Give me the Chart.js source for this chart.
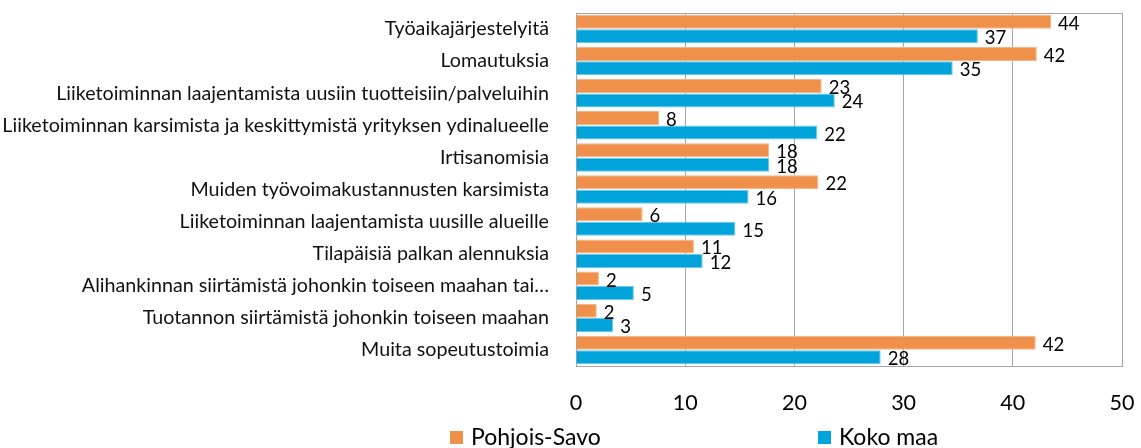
<!DOCTYPE html>
<html>
<head>
<meta charset="utf-8">
<script src="https://cdn.jsdelivr.net/npm/chart.js@4/dist/chart.umd.min.js"></script>
<style>
  html, body { margin: 0; padding: 0; background: #fff; }
  #wrap { width: 1141px; height: 448px; }
</style>
</head>
<body>
<div id="wrap"><canvas id="myChart" width="1141" height="448"></canvas></div>
<script>
// data
const categories = [
  'Työaikajärjestelyitä',
  'Lomautuksia',
  'Liiketoiminnan laajentamista uusiin tuotteisiin/palveluihin',
  'Liiketoiminnan karsimista ja keskittymistä yrityksen ydinalueelle',
  'Irtisanomisia',
  'Muiden työvoimakustannusten karsimista',
  'Liiketoiminnan laajentamista uusille alueille',
  'Tilapäisiä palkan alennuksia',
  'Alihankinnan siirtämistä johonkin toiseen maahan tai…',
  'Tuotannon siirtämistä johonkin toiseen maahan',
  'Muita sopeutustoimia'
];
const pohjoisSavo = [43.5, 42.2, 22.5, 7.6, 17.7, 22.2, 6.1, 10.8, 2.1, 1.9, 42.1];
const kokoMaa = [36.8, 34.5, 23.7, 22.1, 17.7, 15.8, 14.6, 11.6, 5.3, 3.4, 27.9];
const seriesNames = ['Pohjois-Savo', 'Koko maa'];
const xTicks = [0, 10, 20, 30, 40, 50];

const FONT = 'Lato, "Noto Sans", sans-serif';
const gridColor = '#a6a6a6';

// box around the plot area
const plotBox = {
  id: 'plotBox',
  beforeDatasetsDraw(chart) {
    const {ctx, chartArea: {left, top, right, bottom}} = chart;
    ctx.save();
    ctx.strokeStyle = gridColor;
    ctx.lineWidth = 1;
    ctx.strokeRect(Math.round(left) + 0.5, Math.round(top) + 0.5, Math.round(right - left), Math.round(bottom - top));
    ctx.restore();
  }
};

// value labels at bar ends
const valueLabels = {
  id: 'valueLabels',
  afterDatasetsDraw(chart) {
    const {ctx} = chart;
    ctx.save();
    ctx.font = '18.5px ' + FONT;
    ctx.fillStyle = '#000';
    ctx.textAlign = 'left';
    ctx.textBaseline = 'middle';
    chart.data.datasets.forEach((ds, i) => {
      chart.getDatasetMeta(i).data.forEach((bar, j) => {
        ctx.fillText(Math.round(ds.data[j]), bar.x + 7, bar.y + 2);
      });
    });
    ctx.restore();
  }
};

// legend under the axis
const bottomLegend = {
  id: 'bottomLegend',
  afterDraw(chart) {
    const {ctx} = chart;
    const xs = [450, 818];
    const y = 437;
    ctx.save();
    ctx.font = '23px ' + FONT;
    ctx.textBaseline = 'middle';
    ctx.textAlign = 'left';
    chart.data.datasets.forEach((ds, i) => {
      ctx.fillStyle = ds.backgroundColor;
      ctx.fillRect(xs[i], y - 6, 13, 13);
      ctx.fillStyle = '#000';
      ctx.fillText(ds.label, xs[i] + 21, y + 1);
    });
    ctx.restore();
  }
};

const data = {
  labels: categories,
  datasets: [
    {
      label: seriesNames[0],
      data: pohjoisSavo,
      backgroundColor: '#f0914b',
      borderColor: '#f6b487',
      borderWidth: 1
    },
    {
      label: seriesNames[1],
      data: kokoMaa,
      backgroundColor: '#00a4da',
      borderColor: '#6cc8ea',
      borderWidth: 1
    }
  ]
};

const config = {
  type: 'bar',
  data,
  options: {
    indexAxis: 'y',
    responsive: false,
    animation: false,
    categoryPercentage: 0.9,
    barPercentage: 0.97,
    layout: {
      padding: {top: 13, right: 19, bottom: 32, left: 0}
    },
    plugins: {
      legend: {display: false},
      tooltip: {enabled: false}
    },
    scales: {
      x: {
        min: xTicks[0],
        max: xTicks[xTicks.length - 1],
        afterBuildTicks(scale) {
          scale.ticks = xTicks.map(v => ({value: v}));
        },
        afterFit(scale) {
          scale.height = 50;
          scale.paddingLeft = 0;
          scale.paddingRight = 0;
        },
        grid: {color: gridColor, drawTicks: false},
        border: {display: false},
        ticks: {
          color: '#000',
          padding: 24,
          maxRotation: 0,
          font: {family: FONT, size: 21.5}
        }
      },
      y: {
        grid: {display: false},
        border: {display: false},
        afterFit(scale) {
          scale.width = 576;
          scale.paddingTop = 0;
          scale.paddingBottom = 0;
        },
        ticks: {
          color: '#111',
          padding: 19,
          autoSkip: false,
          font: {family: FONT, size: 19.7}
        }
      }
    }
  },
  plugins: [plotBox, valueLabels, bottomLegend]
};

const myChart = new Chart(document.getElementById('myChart'), config);
</script>
</body>
</html>
